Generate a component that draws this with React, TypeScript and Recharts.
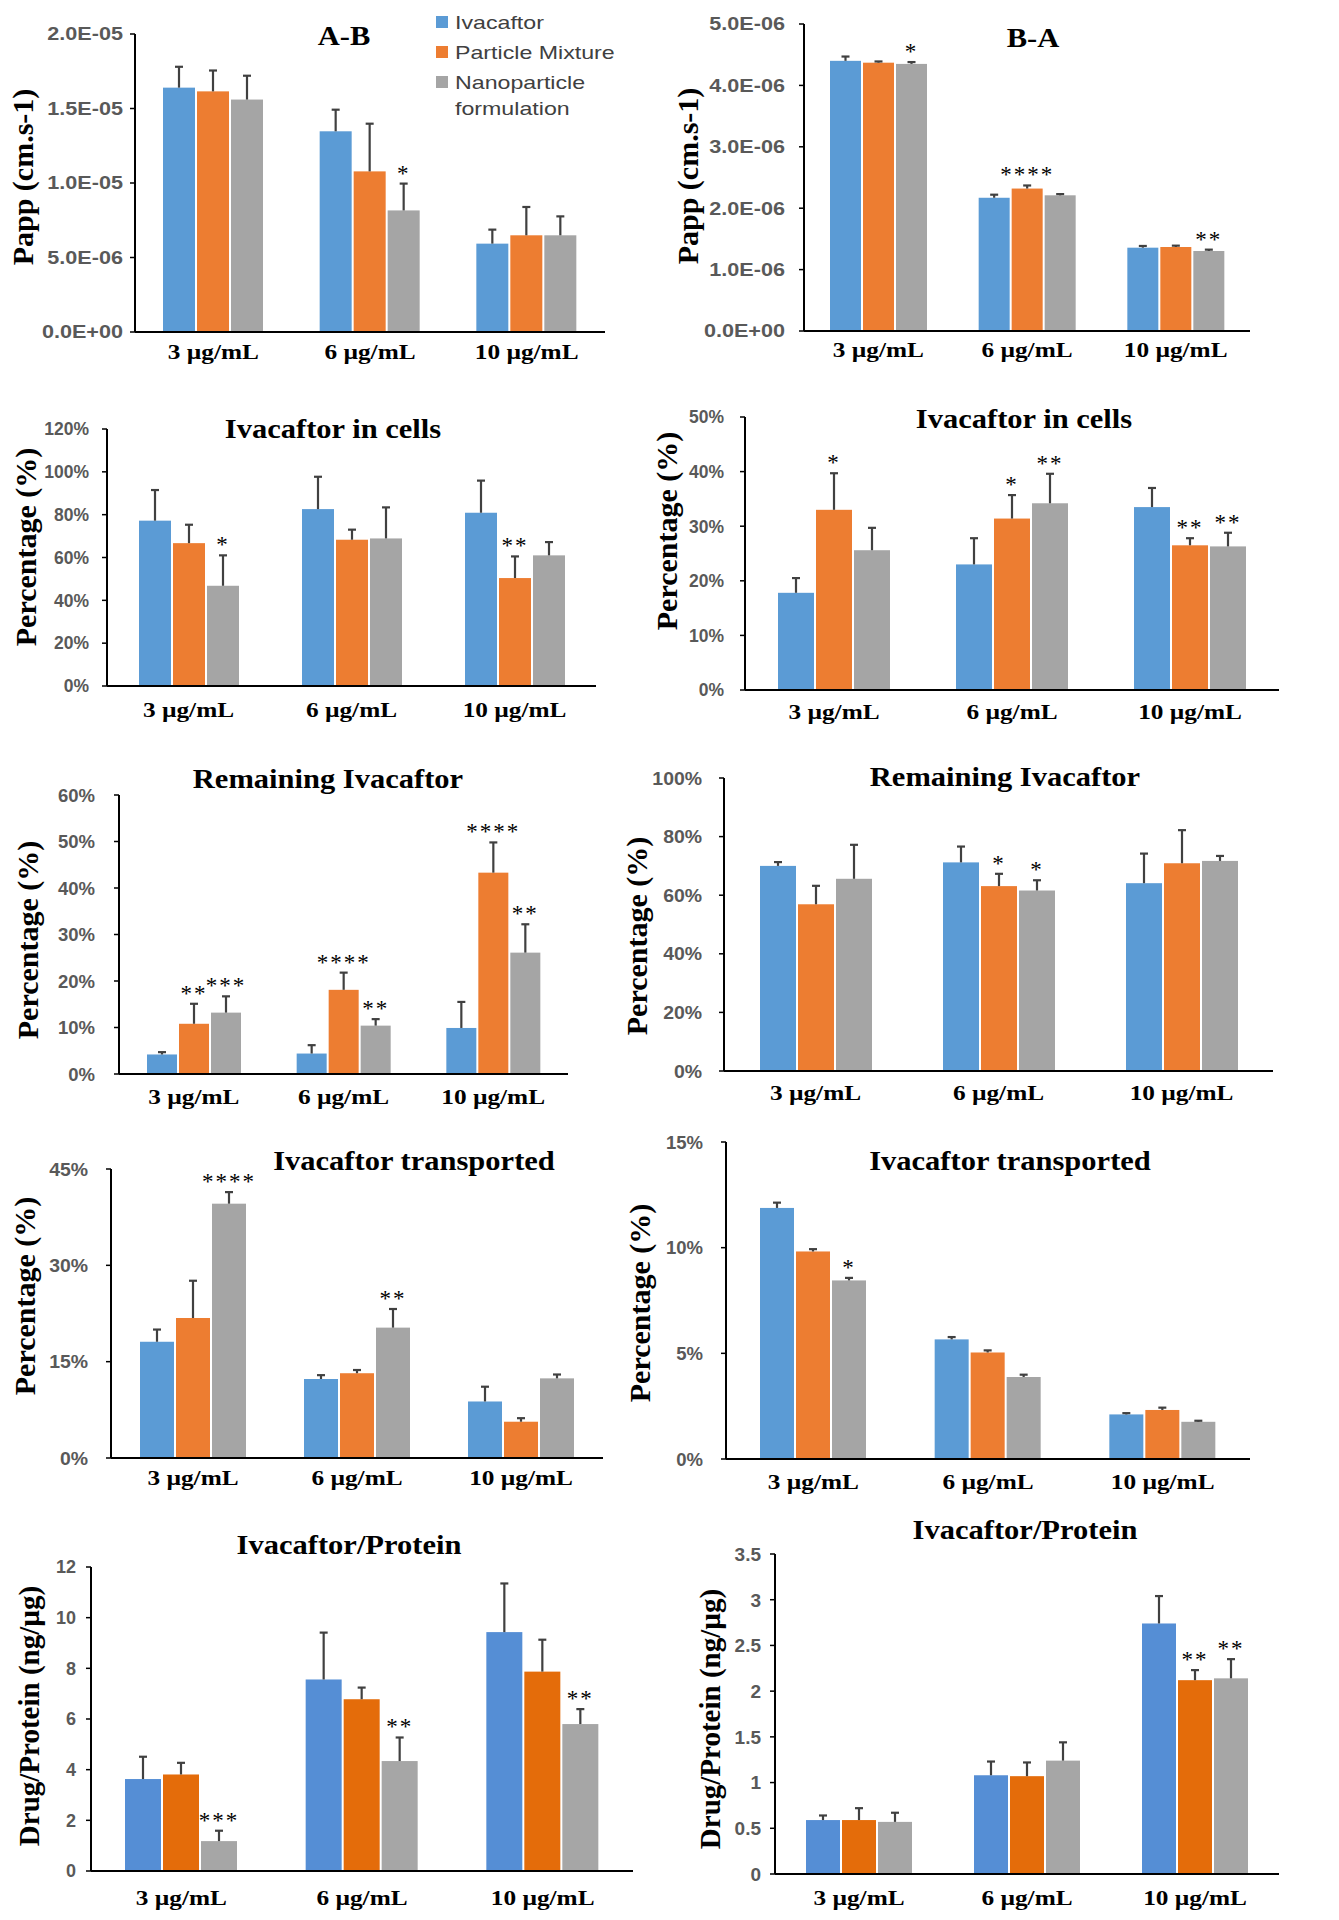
import React from "react";
import { BarChart, Bar, XAxis, YAxis } from "recharts";

const categories = ["3 µg/mL", "6 µg/mL", "10 µg/mL"];
const seriesNames = ["Ivacaftor", "Particle Mixture", "Nanoparticle formulation"];

// rows = series (Ivacaftor, Particle Mixture, Nanoparticle formulation), cols = categories
const abMean = [[1.64e-5, 1.347e-5, 0.593e-5], [1.615e-5, 1.078e-5, 0.649e-5], [1.56e-5, 0.816e-5, 0.649e-5]];
const abErr = [[0.14e-5, 0.145e-5, 0.094e-5], [0.14e-5, 0.32e-5, 0.19e-5], [0.16e-5, 0.18e-5, 0.127e-5]];
const abStars = [["", "", ""], ["", "", ""], ["", "*", ""]];
const abTicks = [0, 5e-6, 1e-5, 1.5e-5, 2e-5];
const abTickLabels = ["0.0E+00", "5.0E-06", "1.0E-05", "1.5E-05", "2.0E-05"];

const baMean = [[4.4e-6, 2.17e-6, 1.357e-6], [4.37e-6, 2.32e-6, 1.368e-6], [4.35e-6, 2.21e-6, 1.303e-6]];
const baErr = [[0.07e-6, 0.05e-6, 0.028e-6], [0.02e-6, 0.05e-6, 0.022e-6], [0.03e-6, 0.02e-6, 0.022e-6]];
const baStars = [["", "", ""], ["", "****", ""], ["*", "", "**"]];
const baTicks = [0, 1e-6, 2e-6, 3e-6, 4e-6, 5e-6];
const baTickLabels = ["0.0E+00", "1.0E-06", "2.0E-06", "3.0E-06", "4.0E-06", "5.0E-06"];

const cellsAMean = [[77.2, 82.6, 80.9], [66.7, 68.3, 50.4], [46.8, 68.9, 61.0]];
const cellsAErr = [[14.3, 15.1, 15.0], [8.6, 4.7, 10.1], [14.2, 14.5, 6.2]];
const cellsAStars = [["", "", ""], ["", "", "**"], ["*", "", ""]];
const cellsATicks = [0, 20, 40, 60, 80, 100, 120];
const cellsATickLabels = ["0%", "20%", "40%", "60%", "80%", "100%", "120%"];

const cellsBMean = [[17.8, 23.0, 33.5], [33.0, 31.4, 26.5], [25.6, 34.2, 26.3]];
const cellsBErr = [[2.7, 4.8, 3.5], [6.7, 4.3, 1.3], [4.1, 5.4, 2.5]];
const cellsBStars = [["", "", ""], ["*", "*", "**"], ["", "**", "**"]];
const cellsBTicks = [0, 10, 20, 30, 40, 50];
const cellsBTickLabels = ["0%", "10%", "20%", "30%", "40%", "50%"];

const remAMean = [[4.2, 4.4, 9.9], [10.8, 18.1, 43.3], [13.2, 10.4, 26.1]];
const remAErr = [[0.5, 1.8, 5.6], [4.3, 3.7, 6.5], [3.5, 1.4, 6.1]];
const remAStars = [["", "", ""], ["**", "****", "****"], ["***", "**", "**"]];
const remATicks = [0, 10, 20, 30, 40, 50, 60];
const remATickLabels = ["0%", "10%", "20%", "30%", "40%", "50%", "60%"];

const remBMean = [[70.0, 71.2, 64.1], [56.9, 63.1, 70.9], [65.6, 61.6, 71.7]];
const remBErr = [[1.3, 5.4, 10.1], [6.3, 4.2, 11.3], [11.6, 3.5, 1.7]];
const remBStars = [["", "", ""], ["", "*", ""], ["", "*", ""]];
const remBTicks = [0, 20, 40, 60, 80, 100];
const remBTickLabels = ["0%", "20%", "40%", "60%", "80%", "100%"];

const trAMean = [[18.1, 12.3, 8.8], [21.8, 13.2, 5.65], [39.6, 20.3, 12.4]];
const trAErr = [[1.9, 0.6, 2.3], [5.8, 0.5, 0.55], [1.8, 2.9, 0.6]];
const trAStars = [["", "", ""], ["", "", ""], ["****", "**", ""]];
const trATicks = [0, 15, 30, 45];
const trATickLabels = ["0%", "15%", "30%", "45%"];

const trBMean = [[11.88, 5.66, 2.11], [9.82, 5.04, 2.32], [8.45, 3.88, 1.76]];
const trBErr = [[0.25, 0.11, 0.06], [0.11, 0.1, 0.11], [0.12, 0.11, 0.05]];
const trBStars = [["", "", ""], ["", "", ""], ["*", "", ""]];
const trBTicks = [0, 5, 10, 15];
const trBTickLabels = ["0%", "5%", "10%", "15%"];

const protAMean = [[3.63, 7.56, 9.43], [3.81, 6.78, 7.87], [1.18, 4.34, 5.8]];
const protAErr = [[0.88, 1.85, 1.92], [0.46, 0.46, 1.26], [0.41, 0.93, 0.59]];
const protAStars = [["", "", ""], ["", "", ""], ["***", "**", "**"]];
const protATicks = [0, 2, 4, 6, 8, 10, 12];
const protATickLabels = ["0", "2", "4", "6", "8", "10", "12"];

const protBMean = [[0.59, 1.08, 2.74], [0.59, 1.07, 2.12], [0.57, 1.24, 2.14]];
const protBErr = [[0.05, 0.15, 0.3], [0.13, 0.15, 0.11], [0.1, 0.2, 0.21]];
const protBStars = [["", "", ""], ["", "", "**"], ["", "", "**"]];
const protBTicks = [0, 0.5, 1, 1.5, 2, 2.5, 3, 3.5];
const protBTickLabels = ["0", "0.5", "1", "1.5", "2", "2.5", "3", "3.5"];

const topColors = ["#5B9BD5", "#ED7D31", "#A5A5A5"];
const bottomColors = ["#558ED5", "#E46C0A", "#A6A6A6"];
const ERR = "#404040";
const SERIF = "'Liberation Serif', 'Times New Roman', serif";
const SANS = "'Liberation Sans', Arial, sans-serif";

// the source figure is stretched sideways, so text gets a small horizontal scale
const panels = [
  { mean: abMean, err: abErr, stars: abStars, ticks: abTicks, labels: abTickLabels, title: "A-B", yLabel: "Papp (cm.s-1)",
    axisX: 135, endX: 605, topY: 34, zeroY: 332, barSize: 32, gap: 12, catOff: 20, tx: 344, ty: 36, lx: 23, ly: 177,
    tickFont: 18, tickSx: 1.2, yFont: 30, colors: topColors },
  { mean: baMean, err: baErr, stars: baStars, ticks: baTicks, labels: baTickLabels, title: "B-A", yLabel: "Papp (cm.s-1)",
    axisX: 804, endX: 1250, topY: 24, zeroY: 331, barSize: 31, gap: 19, catOff: 19, tx: 1033, ty: 38, lx: 688, ly: 176,
    tickFont: 18, tickSx: 1.2, yFont: 30, colors: topColors },
  { mean: cellsAMean, err: cellsAErr, stars: cellsAStars, ticks: cellsATicks, labels: cellsATickLabels, title: "Ivacaftor in cells", yLabel: "Percentage (%)",
    axisX: 107, endX: 596, topY: 429, zeroY: 686, barSize: 32, gap: 18, catOff: 24, tx: 333, ty: 429, lx: 26, ly: 547,
    tickFont: 17.5, tickSx: 1, yFont: 30, colors: topColors },
  { mean: cellsBMean, err: cellsBErr, stars: cellsBStars, ticks: cellsBTicks, labels: cellsBTickLabels, title: "Ivacaftor in cells", yLabel: "Percentage (%)",
    axisX: 745, endX: 1279, topY: 417, zeroY: 690, barSize: 36, gap: 21, catOff: 22, tx: 1024, ty: 419, lx: 667, ly: 531,
    tickFont: 17.5, tickSx: 1, yFont: 30, colors: topColors },
  { mean: remAMean, err: remAErr, stars: remAStars, ticks: remATicks, labels: remATickLabels, title: "Remaining Ivacaftor", yLabel: "Percentage (%)",
    axisX: 119, endX: 568, topY: 795, zeroY: 1074, barSize: 30, gap: 24, catOff: 23, tx: 328, ty: 779, lx: 28, ly: 940,
    tickFont: 18.5, tickSx: 1, yFont: 30, colors: topColors },
  { mean: remBMean, err: remBErr, stars: remBStars, ticks: remBTicks, labels: remBTickLabels, title: "Remaining Ivacaftor", yLabel: "Percentage (%)",
    axisX: 724, endX: 1273, topY: 778, zeroY: 1071, barSize: 36, gap: 22, catOff: 22, tx: 1005, ty: 777, lx: 637, ly: 936,
    tickFont: 18.5, tickSx: 1.05, yFont: 30, colors: topColors },
  { mean: trAMean, err: trAErr, stars: trAStars, ticks: trATicks, labels: trATickLabels, title: "Ivacaftor transported", yLabel: "Percentage (%)",
    axisX: 111, endX: 603, topY: 1169, zeroY: 1458, barSize: 34, gap: 23, catOff: 20, tx: 414, ty: 1161, lx: 25, ly: 1296,
    tickFont: 18.5, tickSx: 1.05, yFont: 30, colors: topColors },
  { mean: trBMean, err: trBErr, stars: trBStars, ticks: trBTicks, labels: trBTickLabels, title: "Ivacaftor transported", yLabel: "Percentage (%)",
    axisX: 726, endX: 1250, topY: 1142, zeroY: 1459, barSize: 34, gap: 23, catOff: 23, tx: 1010, ty: 1161, lx: 640, ly: 1303,
    tickFont: 18.5, tickSx: 1, yFont: 30, colors: topColors },
  { mean: protAMean, err: protAErr, stars: protAStars, ticks: protATicks, labels: protATickLabels, title: "Ivacaftor/Protein", yLabel: "Drug/Protein (ng/µg)",
    axisX: 91, endX: 633, topY: 1567, zeroY: 1871, barSize: 36, gap: 15, catOff: 27, tx: 349, ty: 1545, lx: 29, ly: 1716,
    tickFont: 18, tickSx: 1, yFont: 29, colors: bottomColors },
  { mean: protBMean, err: protBErr, stars: protBStars, ticks: protBTicks, labels: protBTickLabels, title: "Ivacaftor/Protein", yLabel: "Drug/Protein (ng/µg)",
    axisX: 775, endX: 1279, topY: 1554, zeroY: 1874, barSize: 34, gap: 14, catOff: 24, tx: 1025, ty: 1530, lx: 710, ly: 1719,
    tickFont: 19, tickSx: 1, yFont: 29, colors: bottomColors },
];

// bar + upward-only error bar + significance stars
function renderBar(p: any, s: number) {
  const { x, y, width, height, fill, payload } = p;
  const v = payload[`v${s}`];
  const e = payload[`e${s}`];
  const star = payload[`s${s}`];
  const k = v ? height / v : 0;
  const top = y - e * k;
  const cx = x + width / 2;
  return (
    <g>
      <rect x={x} y={y} width={width} height={height} fill={fill} />
      <line x1={cx} x2={cx} y1={y} y2={top} stroke={ERR} strokeWidth={2.2} />
      <line x1={cx - 4} x2={cx + 4} y1={top} y2={top} stroke={ERR} strokeWidth={2.2} />
      {star ? (
        <text x={cx} y={top - 3} textAnchor="middle" fontFamily={SERIF} fontSize={23} letterSpacing={2} fill="#000">
          {star}
        </text>
      ) : null}
    </g>
  );
}

function Panel({ spec }: { spec: any }) {
  const data = categories.map((c, i) => {
    const row: any = { cat: c };
    spec.mean.forEach((m: number[], s: number) => {
      row[`v${s}`] = m[i];
      row[`e${s}`] = spec.err[s][i];
      row[`s${s}`] = spec.stars[s][i];
    });
    return row;
  });
  const YW = 110, mt = 30, mr = 10, XH = 50;
  const w = YW + spec.endX - spec.axisX + mr;
  const h = mt + spec.zeroY - spec.topY + XH;
  const ticks: number[] = spec.ticks;
  return (
    <>
      <div style={{ position: "absolute", left: spec.axisX - YW, top: spec.topY - mt }}>
        <BarChart width={w} height={h} data={data} margin={{ top: mt, right: mr, left: 0, bottom: 0 }} barGap={2}>
          <XAxis
            dataKey="cat"
            height={XH}
            interval={0}
            axisLine={{ stroke: "#000", strokeWidth: 2 }}
            tickLine={false}
            tickSize={0}
            tickMargin={0}
            tick={(t: any) => (
              <text
                transform={`translate(${t.x},${t.y + spec.catOff + 7}) scale(1.15,1)`}
                textAnchor="middle"
                fontFamily={SERIF}
                fontWeight="bold"
                fontSize={22}
                fill="#000"
              >
                {t.payload.value}
              </text>
            )}
          />
          <YAxis
            width={YW}
            domain={[ticks[0], ticks[ticks.length - 1]]}
            ticks={ticks}
            interval={0}
            axisLine={{ stroke: "#000", strokeWidth: 2 }}
            tickLine={{ stroke: "#000", strokeWidth: 1.5 }}
            tickSize={5}
            tickMargin={spec.gap - 5}
            tick={(t: any) => (
              <text
                transform={`translate(${t.x},${t.y}) scale(${spec.tickSx},1)`}
                textAnchor="end"
                dy="0.36em"
                fontFamily={SANS}
                fontWeight="bold"
                fontSize={spec.tickFont}
                fill="#595959"
              >
                {spec.labels[ticks.indexOf(t.payload.value)]}
              </text>
            )}
          />
          {[0, 1, 2].map((s) => (
            <Bar
              key={s}
              dataKey={`v${s}`}
              name={seriesNames[s]}
              fill={spec.colors[s]}
              barSize={spec.barSize}
              isAnimationActive={false}
              shape={(p: any) => renderBar(p, s)}
            />
          ))}
        </BarChart>
      </div>
      <div
        style={{
          position: "absolute", left: spec.tx, top: spec.ty, transform: "translate(-50%, -50%) scale(1.13, 1)",
          fontFamily: SERIF, fontWeight: "bold", fontSize: 27, whiteSpace: "nowrap", lineHeight: 1, color: "#000",
        }}
      >
        {spec.title}
      </div>
      <div
        style={{
          position: "absolute", left: spec.lx, top: spec.ly, transform: "translate(-50%, -50%) rotate(-90deg)",
          fontFamily: SERIF, fontWeight: "bold", fontSize: spec.yFont, whiteSpace: "nowrap", lineHeight: 1, color: "#000",
        }}
      >
        {spec.yLabel}
      </div>
    </>
  );
}

function Legend() {
  const rows = [
    { c: topColors[0], t: ["Ivacaftor"], y: 22 },
    { c: topColors[1], t: ["Particle Mixture"], y: 52 },
    { c: topColors[2], t: ["Nanoparticle", "formulation"], y: 82 },
  ];
  return (
    <>
      {rows.map((r, i) => (
        <React.Fragment key={i}>
          <div style={{ position: "absolute", left: 436, top: r.y - 6, width: 12, height: 12, background: r.c }} />
          {r.t.map((line, j) => (
            <div
              key={j}
              style={{
                position: "absolute", left: 455, top: r.y + j * 26, transform: "translateY(-50%) scale(1.22, 1)",
                transformOrigin: "left center", fontFamily: SANS, fontSize: 19, color: "#404040",
                whiteSpace: "nowrap", lineHeight: 1,
              }}
            >
              {line}
            </div>
          ))}
        </React.Fragment>
      ))}
    </>
  );
}

export default function App() {
  return (
    <div style={{ position: "absolute", left: 0, top: 0, width: 1339, height: 1920, background: "#fff", overflow: "hidden" }}>
      {panels.map((p, i) => (
        <Panel key={i} spec={p} />
      ))}
      <Legend />
    </div>
  );
}
